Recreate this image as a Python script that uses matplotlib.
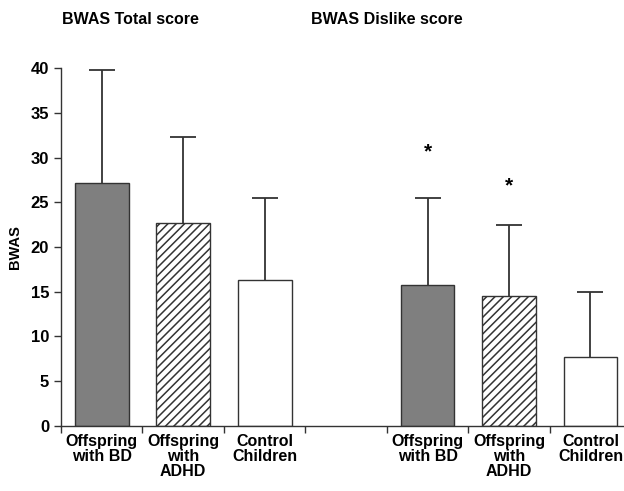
import numpy as np
import matplotlib
matplotlib.use("Agg")
import matplotlib.pyplot as plt
from matplotlib.ticker import FixedLocator

plt.rcParams["font.family"] = ["Liberation Sans", "DejaVu Sans"]
plt.rcParams["font.weight"] = "bold"
plt.rcParams["hatch.linewidth"] = 1.1

# Data
labels = ["Offspring\nwith BD", "Offspring\nwith\nADHD", "Control\nChildren"]
total_mean = [27.2, 22.7, 16.3]
total_sd = [12.6, 9.6, 9.2]
dislike_mean = [15.7, 14.5, 7.7]
dislike_sd = [9.8, 8.0, 7.3]
star_y = [30.6, 26.8]

fills = ["#7f7f7f", "white", "white"]
hatches = ["", "////", ""]

pos_total = np.array([0, 1, 2])
pos_dislike = np.array([4, 5, 6])

fig = plt.figure(figsize=(6.24, 4.91), dpi=100)
ax = fig.add_axes([0.0978, 0.133, 0.902, 0.728])

for pos, means, sds in [(pos_total, total_mean, total_sd), (pos_dislike, dislike_mean, dislike_sd)]:
    ax.bar(pos, means, width=0.66, color=fills, hatch=hatches,
           edgecolor="#333333", linewidth=1.0, zorder=2)
    eb = ax.errorbar(pos, means, yerr=[np.zeros(len(sds)), sds], fmt="none",
                     ecolor="#333333", elinewidth=1.3, capsize=9.5, capthick=1.3, zorder=1)
    # only the upper cap is shown
    eb[1][0].set_visible(False)

for x, y in zip(pos_dislike[:2], star_y):
    ax.text(x, y, "*", ha="center", va="center", fontsize=15, fontweight="bold")

ax.set_xlim(-0.5, 6.41)
ax.set_ylim(0, 40)
ax.set_yticks(np.arange(0, 41, 5))
ax.tick_params(axis="y", labelsize=12, length=5, width=1, color="#333333")

ax.set_xticks(list(pos_total) + list(pos_dislike))
ax.set_xticklabels(labels + labels, fontsize=11.5, fontweight="bold", linespacing=1.0)
ax.tick_params(axis="x", which="major", length=0, pad=6)
ax.xaxis.set_minor_locator(FixedLocator(np.arange(-0.5, 7, 1)))
ax.tick_params(axis="x", which="minor", length=5, width=1, color="#333333")

ax.set_ylabel("BWAS", fontsize=10.5, fontweight="bold", labelpad=6)

for s in ["top", "right"]:
    ax.spines[s].set_visible(False)
for s in ["left", "bottom"]:
    ax.spines[s].set_color("#333333")
    ax.spines[s].set_linewidth(1.0)

fig.text(130 / 624, 1 - 20 / 491, "BWAS Total score", ha="center", va="center",
         fontsize=11.5, fontweight="bold")
fig.text(387 / 624, 1 - 20 / 491, "BWAS Dislike score", ha="center", va="center",
         fontsize=11.5, fontweight="bold")

fig.savefig("out.png", dpi=100)
